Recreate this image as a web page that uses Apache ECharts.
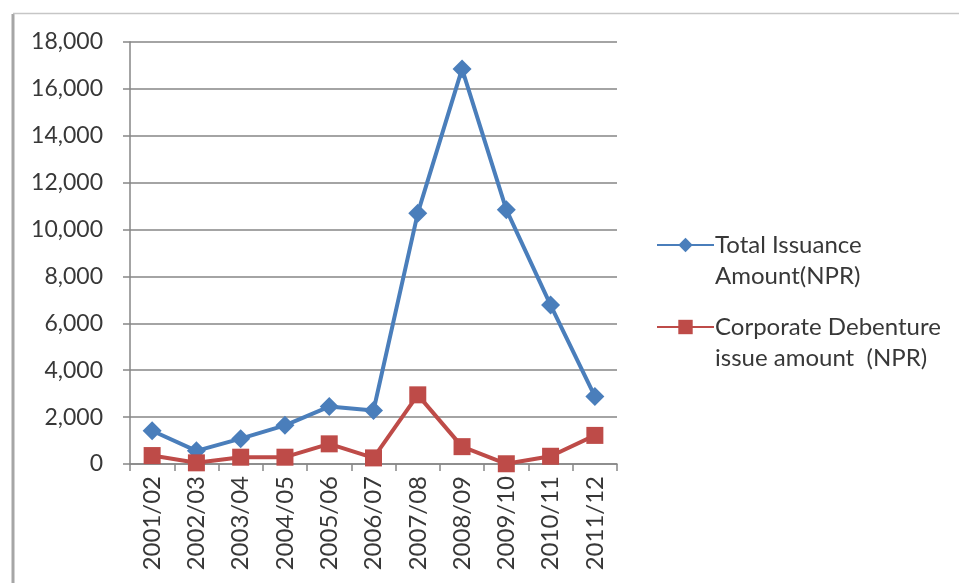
<!DOCTYPE html>
<html>
<head>
<meta charset="utf-8">
<script src="https://cdn.jsdelivr.net/npm/echarts@6/dist/echarts.min.js"></script>
<style>
html,body{margin:0;padding:0;background:#fff;}
#c{width:959px;height:583px;}
</style>
</head>
<body>
<div id="c"></div>
<script>
var categories = ['2001/02','2002/03','2003/04','2004/05','2005/06','2006/07','2007/08','2008/09','2009/10','2010/11','2011/12'];
var totalIssuance = [1420, 560, 1080, 1650, 2450, 2280, 10700, 16850, 10850, 6780, 2880];
var corporateDebenture = [360, 50, 290, 290, 860, 260, 2950, 740, 10, 330, 1220];
var yTicks = {min: 0, max: 18000, interval: 2000};
var seriesNames = ['Total Issuance Amount(NPR)', 'Corporate Debenture issue amount  (NPR)'];
var legendLabels = {
  'Total Issuance Amount(NPR)': 'Total Issuance\nAmount(NPR)',
  'Corporate Debenture issue amount  (NPR)': 'Corporate Debenture\nissue amount  (NPR)'
};

var FONT = 'Lato';
var TXT = '#383838';
var LH = 31;
var chart = echarts.init(document.getElementById('c'), null, {renderer: 'canvas'});

function legendCfg(name, iconCenterY) {
  return {
    data: [name],
    left: 656,
    top: iconCenterY - 1.5 * LH,
    orient: 'vertical',
    padding: 0,
    itemWidth: 57,
    itemHeight: 18,
    itemGap: 0,
    selectedMode: false,
    formatter: function (n) { return '\n' + legendLabels[n]; },
    textStyle: {
      fontFamily: FONT, fontSize: 24, color: TXT, lineHeight: LH,
      padding: [0, 0, 0, -4]
    }
  };
}

chart.setOption({
  backgroundColor: '#ffffff',
  animation: false,
  graphic: [
    {type: 'line', shape: {x1: 13, y1: 14, x2: 13, y2: 583}, style: {stroke: '#a6a6a6', lineWidth: 3}},
    {type: 'line', shape: {x1: 13, y1: 13.5, x2: 959, y2: 13.5}, style: {stroke: '#c6c6c6', lineWidth: 1.5}}
  ],
  grid: {left: 130, right: 342, top: 42, bottom: 119, containLabel: false},
  legend: [
    legendCfg(seriesNames[0], 245),
    legendCfg(seriesNames[1], 327)
  ],
  xAxis: {
    type: 'category',
    data: categories,
    boundaryGap: true,
    axisLine: {show: true, lineStyle: {color: '#868686', width: 1.5}},
    axisTick: {show: true, length: 7, lineStyle: {color: '#868686', width: 1.5}},
    axisLabel: {
      rotate: 90, margin: 12, interval: 0,
      fontFamily: FONT, fontSize: 24, color: TXT
    },
    splitLine: {show: false}
  },
  yAxis: {
    type: 'value',
    min: yTicks.min, max: yTicks.max, interval: yTicks.interval,
    axisLine: {show: true, lineStyle: {color: '#868686', width: 1.5}},
    axisTick: {show: true, length: 7, lineStyle: {color: '#868686', width: 1.5}},
    axisLabel: {
      margin: 27, fontFamily: FONT, fontSize: 23, color: TXT,
      formatter: function (v) { return v.toLocaleString('en-US'); }
    },
    splitLine: {show: true, lineStyle: {color: '#868686', width: 1.5}}
  },
  series: [
    {
      name: seriesNames[0], type: 'line', data: totalIssuance,
      symbol: 'diamond', symbolSize: 19,
      lineStyle: {color: '#4a7ebb', width: 4},
      itemStyle: {color: '#4a7ebb'},
      z: 3
    },
    {
      name: seriesNames[1], type: 'line', data: corporateDebenture,
      symbol: 'rect', symbolSize: 17,
      lineStyle: {color: '#be4b48', width: 4},
      itemStyle: {color: '#be4b48'},
      z: 4
    }
  ]
});
</script>
</body>
</html>
